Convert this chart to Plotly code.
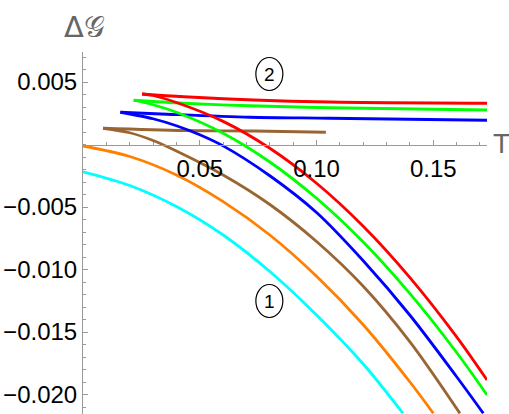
import plotly.graph_objects as go

# ---------------- data ----------------
red_upper_T = [0.0253, 0.0432, 0.0731, 0.1057, 0.1730]
red_upper_G = [0.00404, 0.00382, 0.00356, 0.00340, 0.00330]
red_lower_T = [0.0253, 0.030, 0.040, 0.060, 0.080, 0.100, 0.120, 0.140, 0.160, 0.173]
red_lower_G = [0.00404, 0.00392, 0.00336, 0.00185, -0.00030, -0.00310, -0.00654, -0.01065, -0.01539, -0.01884]

green_upper_T = [0.0217, 0.0432, 0.0714, 0.1057, 0.1730]
green_upper_G = [0.00354, 0.00330, 0.00310, 0.00294, 0.00276]
green_lower_T = [0.0217, 0.030, 0.040, 0.060, 0.080, 0.100, 0.120, 0.140, 0.160, 0.173]
green_lower_G = [0.00354, 0.00318, 0.00258, 0.00090, -0.00140, -0.00430, -0.00780, -0.01193, -0.01664, -0.02004]

blue_upper_T = [0.0160, 0.0359, 0.0714, 0.1057, 0.1730]
blue_upper_G = [0.00258, 0.00242, 0.00218, 0.00210, 0.00194]
blue_lower_T = [0.0160, 0.030, 0.040, 0.050, 0.060, 0.080, 0.100, 0.120, 0.140, 0.160, 0.1714]
blue_lower_G = [0.00258, 0.00206, 0.00150, 0.00078, -0.00011, -0.00250, -0.00544, -0.00930, -0.01366, -0.01858, -0.02150]

brown_upper_T = [0.0086, 0.0432, 0.0732, 0.1040]
brown_upper_G = [0.00130, 0.00112, 0.00108, 0.00098]
brown_lower_T = [0.0086, 0.020, 0.030, 0.040, 0.060, 0.080, 0.100, 0.120, 0.140, 0.1614]
brown_lower_G = [0.00130, 0.00094, 0.00032, -0.00052, -0.00244, -0.00480, -0.00776, -0.01134, -0.01579, -0.02151]

orange_T = [0.0, 0.020, 0.040, 0.060, 0.080, 0.100, 0.120, 0.140, 0.150]
orange_G = [-0.00012, -0.00096, -0.00244, -0.00457, -0.00724, -0.01054, -0.01442, -0.01900, -0.02150]

cyan_T = [0.0, 0.020, 0.040, 0.060, 0.080, 0.100, 0.120, 0.1370]
cyan_G = [-0.00218, -0.00328, -0.00496, -0.00724, -0.01016, -0.01364, -0.01756, -0.02150]

x_ticks = [0.05, 0.10, 0.15]
y_ticks = [-0.020, -0.015, -0.010, -0.005, 0.005]
x_range = [0.0, 0.173]
y_range = [-0.02156, 0.0074]

# ---------------- figure ----------------
RED, GREEN, BLUE = "#FF0000", "#00FF00", "#0000FF"
BROWN, ORANGE, CYAN = "#996633", "#FF8000", "#00FFFF"
LW = 2.8

fig = go.Figure()
series = [
    (cyan_T, cyan_G, CYAN),
    (orange_T, orange_G, ORANGE),
    (brown_lower_T, brown_lower_G, BROWN),
    (brown_upper_T, brown_upper_G, BROWN),
    (blue_lower_T, blue_lower_G, BLUE),
    (blue_upper_T, blue_upper_G, BLUE),
    (green_lower_T, green_lower_G, GREEN),
    (green_upper_T, green_upper_G, GREEN),
    (red_lower_T, red_lower_G, RED),
    (red_upper_T, red_upper_G, RED),
]
for t, g, c in series:
    fig.add_trace(go.Scatter(x=t, y=g, mode="lines",
                             line=dict(color=c, width=LW, shape="spline", smoothing=0.9),
                             showlegend=False, hoverinfo="skip"))

FONT = "Liberation Sans, Arial, sans-serif"
AXC = "#999999"
x_pos = (0 - y_range[0]) / (y_range[1] - y_range[0])

fig.update_layout(
    width=509, height=414,
    margin=dict(l=83, r=22, t=52, b=0),
    paper_bgcolor="white", plot_bgcolor="white",
    font=dict(family=FONT, size=24, color="black"),
    xaxis=dict(range=x_range, showgrid=False, zeroline=False, automargin=False,
               showline=True, linecolor=AXC, linewidth=1,
               anchor="free", position=x_pos,
               tickmode="array", tickvals=x_ticks, tickformat=".2f",
               ticks="inside", ticklen=5, tickcolor=AXC, tickwidth=1,
               ticklabelstandoff=3,
               minor=dict(tickmode="linear", tick0=0, dtick=0.01,
                          ticks="inside", ticklen=3, tickcolor=AXC)),
    yaxis=dict(range=y_range, showgrid=False, zeroline=False, automargin=False,
               showline=True, linecolor=AXC, linewidth=1,
               tickmode="array", tickvals=y_ticks, tickformat=".3f",
               ticks="inside", ticklen=5, tickcolor=AXC, tickwidth=1,
               minor=dict(tickmode="linear", tick0=0, dtick=0.001,
                          ticks="inside", ticklen=3, tickcolor=AXC)),
)

# axis labels (paper coordinates: plot area is 404 x 362 px)
fig.add_annotation(x=1.037, y=0.7486, xref="paper", yref="paper", text="T", showarrow=False,
                   font=dict(size=28, color="#666666", family=FONT),
                   xanchor="center", yanchor="middle")
fig.add_annotation(x=0.003, y=1.069, xref="paper", yref="paper", text="Δ𝒢", showarrow=False,
                   font=dict(size=29, color="#666666", family="DejaVu Sans, Noto Sans, sans-serif"),
                   xanchor="center", yanchor="middle")

# circled branch labels
for lbl, gx, gy in [("1", 0.0798, -0.01252), ("2", 0.0798, 0.00564)]:
    fig.add_shape(type="circle", xref="x", yref="y", xsizemode="pixel", ysizemode="pixel",
                  xanchor=gx, yanchor=gy, x0=-13.5, x1=13.5, y0=-16.5, y1=16.5,
                  line=dict(color="black", width=1.2))
    fig.add_annotation(x=gx, y=gy, xref="x", yref="y", text=lbl, showarrow=False,
                       font=dict(size=19, color="black", family=FONT),
                       xanchor="center", yanchor="middle")

fig.write_html("out.html")
